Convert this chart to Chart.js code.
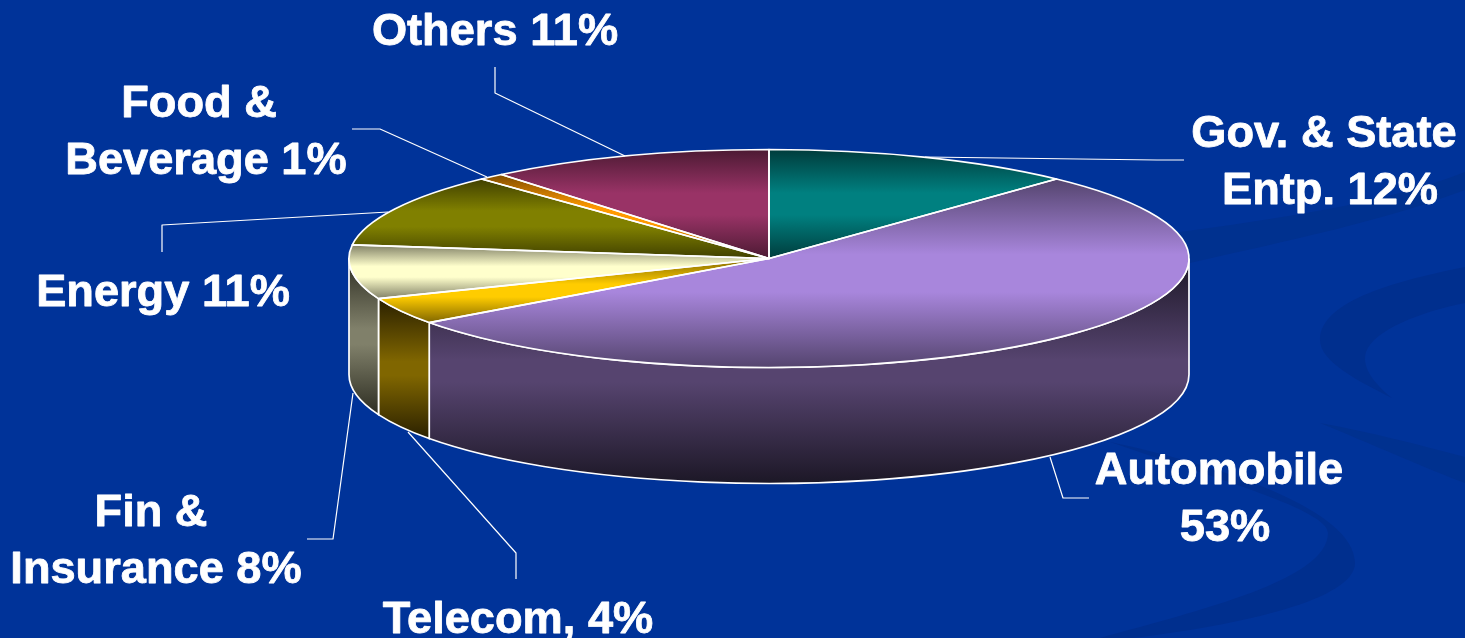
<!DOCTYPE html>
<html>
<head>
<meta charset="utf-8">
<title>Sector split</title>
<script src="https://cdn.jsdelivr.net/npm/chart.js@4"></script>
<style>
  html, body { margin: 0; padding: 0; background: #003399; overflow: hidden; }
  canvas { display: block; }
</style>
</head>
<body>
<canvas id="pieChart" width="1465" height="638"></canvas>
<script>
// ====== DATA ======
const categories = ['Gov. & State Entp.', 'Automobile', 'Telecom', 'Fin & Insurance', 'Energy', 'Food & Beverage', 'Others'];
const shares     = [12, 53, 4, 8, 11, 1, 11];

// ====== COLOURS ======
const topBright  = ['#008080', '#A886DC', '#FFCC00', '#FFFFCC', '#808000', '#FF9900', '#993366'];
const topDark    = ['#003c3c', '#54446e', '#806600', '#808066', '#404000', '#804c00', '#4c1a33'];
const wallBright = ['#004040', '#56446f', '#806600', '#80806a', '#404000', '#804c00', '#4c1a33'];
const wallDark   = ['#001818', '#1c1726', '#2a2000', '#2d2d22', '#1a1a00', '#2a1800', '#1c0a12'];

// ====== LAYOUT ======
const PIE = { x: 769, y: 258.5, rx: 420, ry: 109, depth: 116 };
const FONT = 'bold 45.2px "Liberation Sans", Arial, sans-serif';

// [text, centre x, baseline y]
const labelLines = [
  ['Others 11%', 495, 45],
  ['Food &', 199, 117],
  ['Beverage 1%', 206, 174],
  ['Gov. & State', 1324, 147],
  ['Entp. 12%', 1330, 204],
  ['Energy 11%', 163, 306],
  ['Automobile', 1219, 484],
  ['53%', 1225, 541],
  ['Fin &', 151, 526],
  ['Insurance 8%', 156, 583],
  ['Telecom, 4%', 518, 633]
];

const leaderLines = [
  [[495, 67], [495, 93], [625, 156]],
  [[352, 129], [380, 129], [487, 177]],
  [[925, 157], [1157, 160], [1184, 160]],
  [[162, 252], [162, 225], [388, 212]],
  [[1050, 457], [1063, 498], [1089, 498]],
  [[353, 393], [333, 539], [307, 539]],
  [[408, 432], [516, 553], [516, 579]]
];

// ====== HELPERS ======

// vertical extent of a slice on the unit circle, centre included
function sliceExtent(start, end) {
  let lo = Math.min(0, Math.sin(start), Math.sin(end));
  let hi = Math.max(0, Math.sin(start), Math.sin(end));
  for (let k = -1; k <= 3; k++) {
    const a = k * Math.PI / 2;
    if (a > start && a < end) {
      lo = Math.min(lo, Math.sin(a));
      hi = Math.max(hi, Math.sin(a));
    }
  }
  return [lo, hi];
}

// Top face gradient. It is given in the pie's own coords, the squash is applied at draw time
function sliceFill(context) {
  const i = context.dataIndex;
  const area = context.chart.chartArea;
  if (!area) return topBright[i];
  const total = shares.reduce((a, b) => a + b, 0);
  const before = shares.slice(0, i).reduce((a, b) => a + b, 0);
  const start = -Math.PI / 2 + before / total * 2 * Math.PI;
  const end = start + shares[i] / total * 2 * Math.PI;
  const R = Math.min(area.right - area.left, area.bottom - area.top) / 2;
  const cy = (area.top + area.bottom) / 2;
  const [lo, hi] = sliceExtent(start, end);
  const g = context.chart.ctx.createLinearGradient(0, cy + lo * R, 0, cy + hi * R);
  g.addColorStop(0, topDark[i]);
  g.addColorStop(0.4, topBright[i]);
  g.addColorStop(0.6, topBright[i]);
  g.addColorStop(1, topDark[i]);
  return g;
}

function smoothShape(ctx, pts) {
  ctx.beginPath();
  ctx.moveTo(pts[0][0], pts[0][1]);
  for (let i = 1; i < pts.length; i++) {
    const p = pts[i];
    if (p.length === 2) ctx.lineTo(p[0], p[1]);
    else ctx.bezierCurveTo(p[0], p[1], p[2], p[3], p[4], p[5]);
  }
  ctx.closePath();
  ctx.fill();
}

function drawBackdrop(ctx) {
  ctx.fillStyle = '#003399';
  ctx.fillRect(0, 0, 1465, 638);
  ctx.fillStyle = '#002f8e';
  // right crescent
  smoothShape(ctx, [[1465, 267], [1400, 280, 1320, 300, 1320, 340], [1320, 362, 1360, 382, 1392, 398],
    [1370, 380, 1362, 365, 1366, 352], [1374, 330, 1420, 312, 1465, 303]]);
  // lower sweep
  smoothShape(ctx, [[1110, 442], [1220, 465, 1355, 510, 1355, 563], [1355, 600, 1240, 625, 1133, 638], [1100, 638],
    [1200, 610, 1328, 580, 1328, 533], [1328, 510, 1220, 480, 1110, 442]]);
  // the two faint ones
  ctx.fillStyle = '#00318f';
  smoothShape(ctx, [[1173, 233], [1280, 218, 1380, 205, 1465, 172], [1465, 190], [1380, 222, 1290, 240, 1190, 263]]);
  smoothShape(ctx, [[1320, 423], [1370, 432, 1420, 445, 1465, 457], [1465, 483], [1430, 470, 1390, 452, 1320, 423]]);
}

function drawWalls(ctx, arcs) {
  arcs.forEach((arc, i) => {
    const a0 = Math.max(arc.startAngle, 0);
    const a1 = Math.min(arc.endAngle, Math.PI);
    if (a1 <= a0) return;
    const [lo, hi] = sliceExtent(a0, a1);
    // top of the wall follows the rim, so use the rim's highest point here
    const rimTop = Math.min(Math.sin(a0), Math.sin(a1));
    const g = ctx.createLinearGradient(0, PIE.y + rimTop * PIE.ry, 0, PIE.y + hi * PIE.ry + PIE.depth);
    g.addColorStop(0, wallDark[i]);
    g.addColorStop(0.45, wallBright[i]);
    g.addColorStop(0.55, wallBright[i]);
    g.addColorStop(1, wallDark[i]);
    ctx.beginPath();
    ctx.ellipse(PIE.x, PIE.y, PIE.rx, PIE.ry, 0, a0, a1);
    ctx.ellipse(PIE.x, PIE.y + PIE.depth, PIE.rx, PIE.ry, 0, a1, a0, true);
    ctx.closePath();
    ctx.fillStyle = g;
    ctx.fill();
    ctx.strokeStyle = '#ffffff';
    ctx.lineWidth = 1.7;
    ctx.stroke();
  });
}

function drawOutlines(ctx, arcs) {
  ctx.strokeStyle = '#ffffff';
  ctx.lineWidth = 1.7;
  ctx.lineJoin = 'round';
  arcs.forEach(arc => {
    ctx.beginPath();
    ctx.moveTo(PIE.x, PIE.y);
    ctx.ellipse(PIE.x, PIE.y, PIE.rx, PIE.ry, 0, arc.startAngle, arc.endAngle);
    ctx.closePath();
    ctx.stroke();
  });
}

function drawAnnotations(ctx) {
  ctx.strokeStyle = '#ffffff';
  ctx.lineWidth = 1.2;
  leaderLines.forEach(line => {
    ctx.beginPath();
    line.forEach((p, i) => i ? ctx.lineTo(p[0], p[1]) : ctx.moveTo(p[0], p[1]));
    ctx.stroke();
  });
  ctx.fillStyle = '#ffffff';
  ctx.strokeStyle = '#ffffff';
  ctx.lineWidth = 0.8;
  ctx.font = FONT;
  ctx.textAlign = 'center';
  ctx.textBaseline = 'alphabetic';
  labelLines.forEach(l => {
    ctx.fillText(l[0], l[1], l[2]);
    ctx.strokeText(l[0], l[1], l[2]); // source text is a touch heavier than plain bold
  });
}

// ====== PLUGIN: tilts the flat pie into the 3D disc ======
const tiltPlugin = {
  id: 'tilt',
  beforeDraw(chart) {
    drawBackdrop(chart.ctx);
  },
  beforeDatasetsDraw(chart) {
    const ctx = chart.ctx;
    const arcs = chart.getDatasetMeta(0).data;
    drawWalls(ctx, arcs);
    const R = arcs[0].outerRadius;
    ctx.save();
    ctx.translate(PIE.x, PIE.y);
    ctx.scale(PIE.rx / R, PIE.ry / R);
    ctx.translate(-arcs[0].x, -arcs[0].y);
  },
  afterDatasetsDraw(chart) {
    const ctx = chart.ctx;
    ctx.restore();
    drawOutlines(ctx, chart.getDatasetMeta(0).data);
    drawAnnotations(ctx);
  }
};

// ====== CHART ======
new Chart(document.getElementById('pieChart').getContext('2d'), {
  type: 'pie',
  data: {
    labels: categories,
    datasets: [{
      data: shares,
      backgroundColor: sliceFill,
      borderWidth: 0
    }]
  },
  options: {
    responsive: false,
    animation: false,
    events: [],
    layout: { padding: 0 },
    plugins: {
      legend: { display: false },
      tooltip: { enabled: false }
    }
  },
  plugins: [tiltPlugin]
});
</script>
</body>
</html>
